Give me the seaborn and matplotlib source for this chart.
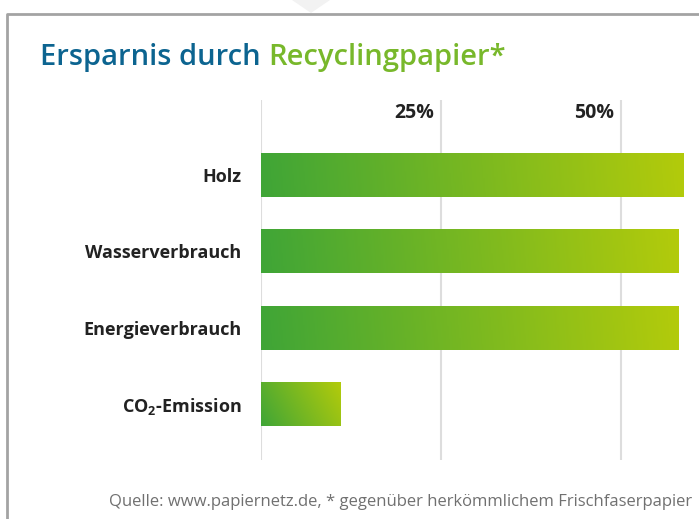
import numpy as np
import pandas as pd
import matplotlib
matplotlib.use("Agg")
import matplotlib.pyplot as plt
import seaborn as sns
from matplotlib.patches import Polygon
from matplotlib.colors import LinearSegmentedColormap

# data
categories = ["Holz", "Wasserverbrauch", "Energieverbrauch", r"CO$_\mathbf{2}$-Emission"]
savings = [58.7, 58.0, 58.0, 11.0]
tick_values = [25, 50]
tick_labels = ["25%", "50%"]

title_blue = "Ersparnis durch "
title_green = "Recyclingpapier*"
source = "Quelle: www.papiernetz.de, * gegenüber herkömmlichem Frischfaserpapier"

GREEN_DARK = "#3fa537"
GREEN_LIGHT = "#b3cb0b"
TEXT = "#222222"

sns.set_theme(style="white")
plt.rcParams["font.family"] = ["Open Sans", "DejaVu Sans"]
plt.rcParams["mathtext.fontset"] = "custom"
plt.rcParams["mathtext.rm"] = "Open Sans"
plt.rcParams["mathtext.bf"] = "Open Sans:bold"

W, H = 699, 519
fig = plt.figure(figsize=(W / 100, H / 100), dpi=100)
fig.patch.set_facecolor("white")

# axes placed in pixel space: 0% at x=261, 25% every 180px, grid from y=100 to 460
ax_left, ax_right = 261, 699
ax_top, ax_bot = 100, 460
ax = fig.add_axes([ax_left / W, 1 - ax_bot / H, (ax_right - ax_left) / W, (ax_bot - ax_top) / H])

df = pd.DataFrame({"cat": categories, "val": savings})
sns.barplot(data=df, x="val", y="cat", orient="h", width=0.576, color=GREEN_DARK, ax=ax)

xmax = (ax_right - ax_left) / 180 * 25
ax.set_xlim(0, xmax)
ax.set_ylim(3.733, -0.98)

for s in ax.spines.values():
    s.set_visible(False)
ax.set_xlabel("")
ax.set_ylabel("")
ax.set_xticks([])
ax.tick_params(axis="y", length=0, pad=14)
for lab in ax.get_yticklabels():
    lab.set_fontweight("bold")
    lab.set_fontsize(13)
    lab.set_color(TEXT)

for v in [0] + tick_values:
    ax.axvline(v, color="#dddddd", lw=1.5, zorder=0)

for v, t in zip(tick_values, tick_labels):
    ax.annotate(t, xy=(v, 1), xycoords=("data", "axes fraction"),
                xytext=(-7, -13), textcoords="offset pixels",
                ha="right", va="center", fontsize=14, fontweight="bold", color=TEXT)

# gradient fill for each bar, running along the bar's diagonal
cmap = LinearSegmentedColormap.from_list("recy", [GREEN_DARK, GREEN_LIGHT])
fig.canvas.draw()
for p in ax.patches:
    x0, y0 = p.get_x(), p.get_y()
    w, h = p.get_width(), p.get_height()
    (px0, py0), (px1, py1) = ax.transData.transform([(x0, y0), (x0 + w, y0 + h)])
    pw, ph = abs(px1 - px0), abs(py1 - py0)
    u = np.linspace(0, 1, 300)[None, :]
    vv = np.linspace(0, 1, 60)[:, None]
    grad = (u * pw ** 2 + vv * ph ** 2) / (pw ** 2 + ph ** 2)
    im = ax.imshow(grad, cmap=cmap, vmin=0, vmax=1, origin="lower", aspect="auto",
                   extent=(x0, x0 + w, y0 + h, y0), interpolation="bilinear", zorder=3)
    im.set_clip_path(p)
    p.set_facecolor("none")
    p.set_edgecolor("none")

ax.set_xlim(0, xmax)
ax.set_ylim(3.733, -0.98)

# frame and the little pointer on top
fig.add_artist(plt.Line2D([7 / W, 7 / W, 1.01], [-0.01, 1 - 14 / H, 1 - 14 / H],
                          transform=fig.transFigure, color="#a3a3a3", lw=2))
fig.add_artist(Polygon([(292 / W, 1), (330 / W, 1), (311 / W, 1 - 13 / H)], closed=True,
                       transform=fig.transFigure, facecolor="#f2f2f2", edgecolor="none"))

t1 = fig.text(40 / W, 1 - 65 / H, title_blue, fontsize=21, fontweight="semibold",
              color="#0c6490", va="baseline", ha="left")
fig.canvas.draw()
ax.annotate(title_green, xy=(1, 0), xycoords=t1, va="bottom", ha="left",
            fontsize=21, fontweight="semibold", color="#78b82b", annotation_clip=False)

fig.text(692 / W, 1 - 506 / H, source, fontsize=12, color="#707070", ha="right", va="baseline")

fig.savefig("out.png", dpi=100, facecolor="white")
